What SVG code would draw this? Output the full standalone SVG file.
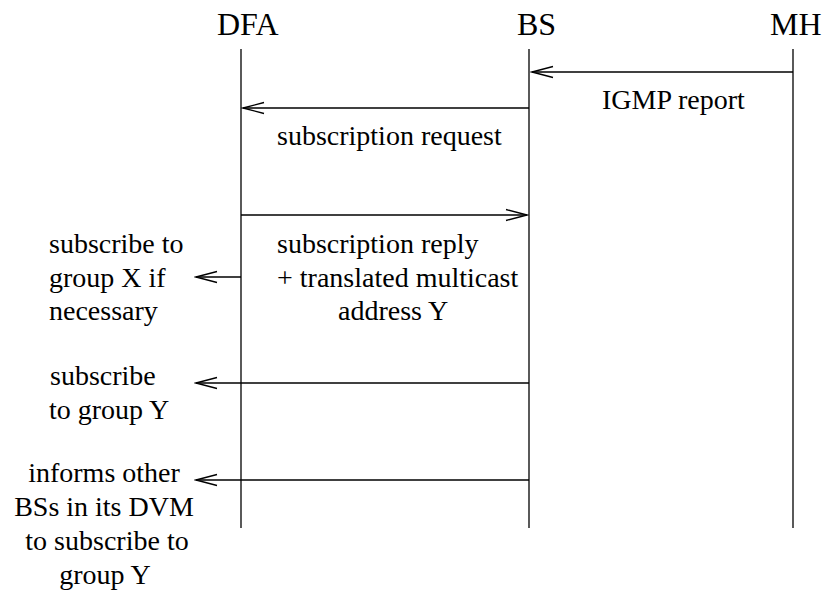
<svg xmlns="http://www.w3.org/2000/svg" width="827" height="598" viewBox="0 0 827 598">
<style>
.hd{font-family:"Liberation Serif","Times New Roman",serif;font-size:32px;fill:#000}
.t{font-family:"Liberation Serif","Times New Roman",serif;font-size:28px;fill:#000}
.ln{stroke:#000;stroke-width:1.3;fill:none}
</style>
<defs>
<marker id="ah" viewBox="-22 -7 24 14" markerWidth="24" markerHeight="14" refX="0" refY="0" orient="auto" markerUnits="userSpaceOnUse">
<path d="M-21,-5.5 L0,0 L-21,5.5" stroke="#000" stroke-width="1.3" fill="none"/>
</marker>
</defs>
<rect width="827" height="598" fill="#fff"/>
<g id="DFA">
<text class="hd" x="217" y="35">DFA</text>
<line class="ln" x1="241" y1="49" x2="241" y2="528"/>
</g>
<g id="BS">
<text class="hd" x="517" y="35">BS</text>
<line class="ln" x1="529" y1="49" x2="529" y2="528"/>
</g>
<g id="MH">
<text class="hd" x="770" y="35">MH</text>
<line class="ln" x1="793" y1="49" x2="793" y2="528"/>
</g>
<g id="connectors">
<line class="ln" x1="793" y1="72" x2="532" y2="72" marker-end="url(#ah)"/>
<line class="ln" x1="529" y1="108" x2="243" y2="108" marker-end="url(#ah)"/>
<line class="ln" x1="241" y1="215" x2="527" y2="215" marker-end="url(#ah)"/>
<line class="ln" x1="241" y1="277" x2="196" y2="277" marker-end="url(#ah)"/>
<line class="ln" x1="529" y1="383" x2="196" y2="383" marker-end="url(#ah)"/>
<line class="ln" x1="529" y1="480" x2="196" y2="480" marker-end="url(#ah)"/>
</g>
<g id="labels">
<text class="t" x="602" y="109">IGMP report</text>
<text class="t" x="277" y="145">subscription request</text>
<text class="t" x="277" y="253">subscription reply</text>
<text class="t" x="277" y="287">+ translated multicast</text>
<text class="t" x="338" y="320">address Y</text>
<text class="t" x="49" y="253">subscribe to</text>
<text class="t" x="49" y="287">group X if</text>
<text class="t" x="49" y="320">necessary</text>
<text class="t" x="50" y="385">subscribe</text>
<text class="t" x="49" y="419">to group Y</text>
<text class="t" x="104" y="482" text-anchor="middle">informs other</text>
<text class="t" x="104" y="516" text-anchor="middle">BSs in its DVM</text>
<text class="t" x="107" y="550" text-anchor="middle">to subscribe to</text>
<text class="t" x="105" y="584" text-anchor="middle">group Y</text>
</g>
</svg>
